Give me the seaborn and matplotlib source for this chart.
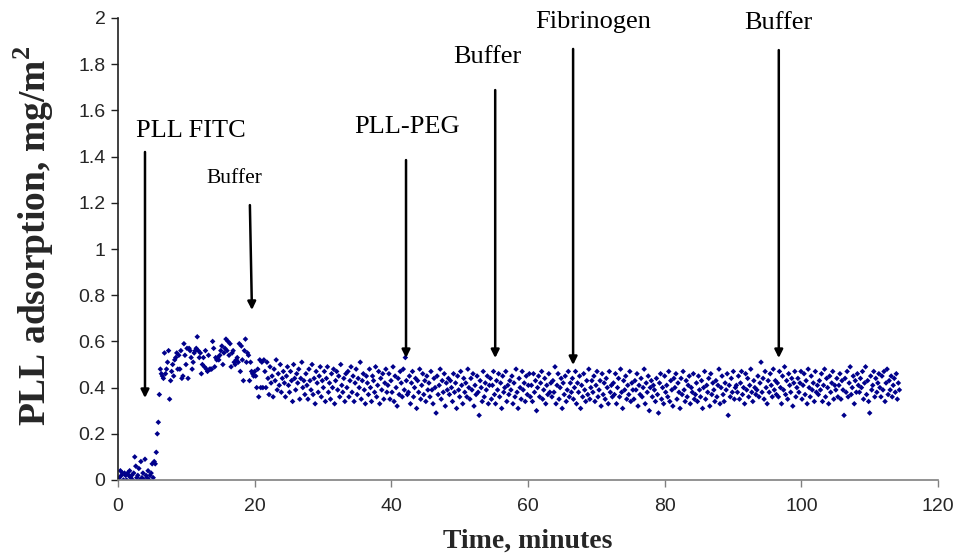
import numpy as np
import pandas as pd
import matplotlib
matplotlib.use("Agg")
import matplotlib.pyplot as plt
import seaborn as sns

# ---------------- data (values in hundredths of mg/m^2) ----------------
t_start = 0.2          # first sample time, minutes
t_step = 0.15          # sampling interval, minutes

base_vals = [1, 4, 2, 3, 0, 3, 2, 0, 3, 2, 4, 1, 2, 0, 3, 10, 6, 1, 2, 5,
             0, 8, 1, 3, 0, 9, 2, 1, 4, 0, 2, 3, 7, 1, 8, 7]
rise_vals = [12, 20, 25, 37]
fitc_vals = [48, 46, 45, 44, 55, 46, 48, 51, 56, 35,
             43, 47, 50, 45, 52, 53, 55, 48, 54, 48,
             56, 44, 45, 59, 54, 50, 57, 44, 57, 56,
             53, 48, 51, 55, 56, 57, 62, 56, 53, 55,
             46, 50, 53, 49, 56, 48, 47, 54, 48, 48,
             48, 60, 57, 49, 53, 52, 53, 52, 54, 56,
             58, 50, 55, 57, 61, 56, 60, 54, 59, 49,
             55, 56, 51, 50, 52, 53, 51, 59, 47, 58,
             52, 43, 56, 61, 51, 55, 54, 43, 51, 47,
             46, 45, 47, 45, 40, 48, 36, 52, 40, 51,
             40, 52]
rinse_vals = [47, 40, 51, 44, 37, 49, 42, 45, 36, 48, 43, 52, 39, 46, 41, 50, 38, 44, 47, 42,
              36, 45, 49, 41, 38, 47, 43, 34, 50, 44, 39, 46, 42, 48, 35, 44, 51, 40, 43, 37,
              46, 41, 35, 48, 43, 39, 50, 37, 44, 33, 47, 42, 38, 45, 49, 36, 43, 40, 47, 34,
              44, 49, 38, 42, 35, 46, 40, 48, 33, 43, 47, 39, 45, 36, 50, 41, 38, 44, 34, 46,
              40, 47, 36, 43, 49, 38, 45, 34, 42, 48, 37, 44, 40, 51, 35, 43, 46, 39, 33, 45,
              42, 37, 48, 40, 34, 45, 43, 38, 49, 36, 41, 47, 33, 44, 39, 46, 35, 42, 48, 38,
              41, 46, 35, 43, 38, 49, 34, 45, 40, 32, 44, 37, 47, 42, 36, 48, 39, 53, 43, 37]
peg_vals = [38, 45, 33, 42, 47, 36, 40, 44, 31, 43, 38, 48, 35, 41, 46, 37, 43, 34, 45, 39,
            42, 36, 47, 39, 33, 44, 40, 29, 45, 37, 41, 48, 35, 43, 38, 46, 32, 42, 39, 44,
            37, 43, 40, 34, 46, 38, 42, 31, 45, 39, 36, 47, 41, 33, 44, 38, 42, 36, 48, 40,
            35, 44, 39, 46, 32, 41, 37, 45, 38, 28, 43, 40, 34, 47, 36, 42, 39, 45, 33, 41]
buffer2_vals = [44, 35, 41, 47, 37, 33, 43, 39, 46, 36, 42, 31, 45, 38, 40, 47, 34, 41, 37, 43,
                39, 45, 33, 42, 36, 48, 38, 31, 44, 40, 35, 47, 39, 42, 34, 45, 37, 41, 46, 36,
                41, 34, 46, 38, 43, 30, 40, 45, 36, 42, 47, 35, 39, 44, 33, 41, 37, 46, 38, 42]
fib_vals = [36, 43, 38, 49, 33, 41, 46, 35, 40, 44, 31, 42, 37, 45, 34, 39, 47, 36, 42, 38,
            44, 35, 40, 47, 33, 42, 38, 45, 31, 41, 36, 46, 39, 34, 43, 37, 48, 35, 40, 43,
            38, 45, 34, 41, 47, 36, 39, 43, 32, 46, 37, 42, 35, 44, 40, 33, 47, 38, 41, 36,
            42, 37, 46, 33, 40, 44, 36, 48, 38, 31, 43, 39, 45, 35, 41, 37, 47, 34, 42, 39,
            35, 43, 39, 46, 32, 41, 37, 44, 36, 40, 48, 33, 42, 38, 45, 30, 40, 43, 36, 41,
            39, 34, 44, 37, 29, 42, 46, 35, 40, 33, 45, 38, 41, 36, 47, 34, 43, 39, 32, 44,
            40, 46, 35, 42, 38, 31, 44, 37, 47, 39, 34, 43, 36, 41, 45, 33, 40, 38, 46, 35,
            37, 42, 34, 45, 39, 36, 43, 31, 40, 47, 35, 41, 38, 44, 32, 46, 37, 42, 39, 34,
            43, 36, 41, 48, 33, 40, 45, 37, 34, 42, 39, 46, 28, 41, 36, 44, 38, 47, 35, 40,
            41, 38, 45, 35, 42, 47, 37, 40, 33, 46, 39, 44, 36, 41, 48, 38, 34, 43, 40, 37]
buffer3_vals = [39, 45, 36, 42, 51, 38, 44, 35, 47, 40, 33, 43, 38, 46, 41, 36, 48, 39, 43, 37,
                42, 36, 47, 40, 33, 45, 39, 49, 37, 43, 35, 46, 41, 38, 44, 32, 42, 47, 36, 40,
                44, 38, 42, 47, 35, 41, 46, 37, 43, 33, 48, 40, 36, 45, 39, 42, 34, 47, 38, 41,
                37, 43, 39, 46, 34, 41, 48, 36, 44, 40, 33, 45, 38, 42, 47, 35, 41, 39, 44, 36,
                41, 46, 35, 43, 39, 28, 44, 38, 47, 36, 42, 49, 37, 40, 45, 33, 43, 38, 46, 41,
                38, 44, 40, 47, 35, 42, 49, 37, 43, 34, 29, 45, 39, 41, 47, 36, 44, 38, 42, 46,
                40, 36, 45, 39, 47, 34, 42, 48, 37, 43, 39, 45, 36, 41, 44, 38, 46, 35, 42, 39]

# event annotations
event_labels = ["PLL FITC", "Buffer", "PLL-PEG", "Buffer", "Fibrinogen", "Buffer"]
arrow_x_top = [3.95, 19.3, 42.15, 55.2, 66.6, 96.7]
arrow_x_tip = [3.95, 19.6, 42.15, 55.2, 66.6, 96.7]
arrow_y_top = [1.42, 1.19, 1.385, 1.688, 1.866, 1.861]
arrow_y_tip = [0.355, 0.736, 0.528, 0.528, 0.498, 0.528]
label_x = [10.7, 17.1, 42.3, 54.0, 69.5, 96.7]
label_y = [1.485, 1.286, 1.502, 1.805, 1.957, 1.952]
label_size = [19, 15.5, 19, 19, 19, 19]

x_ticks = [0, 20, 40, 60, 80, 100, 120]
y_ticks = [0, 0.2, 0.4, 0.6, 0.8, 1.0, 1.2, 1.4, 1.6, 1.8, 2.0]
y_tick_labels = ["0", "0.2", "0.4", "0.6", "0.8", "1", "1.2", "1.4", "1.6", "1.8", "2"]

# ---------------- assemble ----------------
vals = np.array(base_vals + rise_vals + fitc_vals + rinse_vals + peg_vals
                + buffer2_vals + fib_vals + buffer3_vals, dtype=float) / 100.0
times = t_start + t_step * np.arange(len(vals))
df = pd.DataFrame({"time": times, "ads": vals})

sns.set_theme(style="white")
plt.rcParams["font.family"] = ["Liberation Sans", "DejaVu Sans"]
plt.rcParams["mathtext.fontset"] = "custom"
plt.rcParams["mathtext.bf"] = "Liberation Serif:bold"
plt.rcParams["mathtext.rm"] = "Liberation Serif"

fig = plt.figure(figsize=(9.65, 5.54), dpi=100)
ax = fig.add_axes([118 / 965, 1 - 480 / 554, 820 / 965, 462 / 554])

sns.scatterplot(data=df, x="time", y="ads", ax=ax, color="#00008b",
                marker="D", s=8, linewidth=0, edgecolor="none", legend=False)

ax.set_xlim(0, 120)
ax.set_ylim(0, 2)
ax.set_xticks(x_ticks)
ax.set_xticklabels([str(v) for v in x_ticks])
ax.set_yticks(y_ticks)
ax.set_yticklabels(y_tick_labels)

for side in ["top", "right"]:
    ax.spines[side].set_visible(False)
ax.spines["bottom"].set_color("#808080")
ax.spines["left"].set_color("#202020")
ax.spines["bottom"].set_linewidth(1.2)
ax.spines["left"].set_linewidth(1.2)
ax.tick_params(axis="x", direction="out", length=5, width=1.0, color="#808080",
               labelsize=14, pad=8, bottom=True)
ax.tick_params(axis="y", direction="out", length=5, width=1.0, color="#202020",
               labelsize=14, pad=4, left=True)

ax.set_xlabel("Time, minutes", fontsize=20, fontweight="bold",
              family=["Liberation Serif", "DejaVu Serif"])
ax.set_ylabel("PLL adsorption, mg/m$^\\mathbf{2}$", fontsize=27, fontweight="bold",
              family=["Liberation Serif", "DejaVu Serif"])
ax.xaxis.set_label_coords(0.5, -0.105)
ax.yaxis.set_label_coords(-0.076, 0.528)

for lab, xt, xp, yt, yp, lx, ly, fs in zip(event_labels, arrow_x_top, arrow_x_tip,
                                            arrow_y_top, arrow_y_tip, label_x,
                                            label_y, label_size):
    ax.annotate("", xy=(xp, yp), xytext=(xt, yt),
                arrowprops=dict(arrowstyle="-|>", color="black", lw=1.8,
                                mutation_scale=12, shrinkA=0, shrinkB=0))
    ax.text(lx, ly, lab, ha="center", va="baseline", fontsize=fs,
            family=["Liberation Serif", "DejaVu Serif"], color="black")

fig.savefig("out.png", dpi=100, facecolor="white")
